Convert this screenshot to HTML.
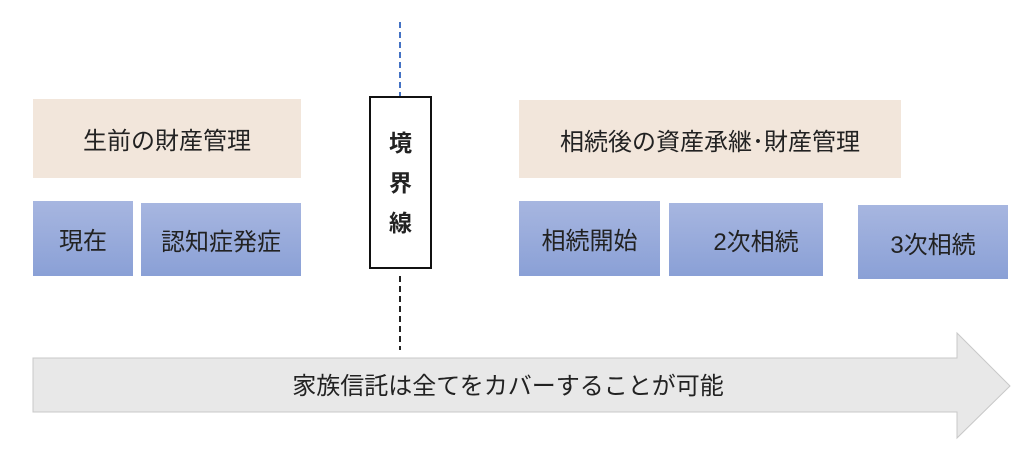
<!DOCTYPE html>
<html><head><meta charset="utf-8"><style>
body{margin:0;width:1024px;height:449px;background:#fff;position:relative;overflow:hidden;font-family:"Liberation Sans","Noto Sans CJK JP",sans-serif;color:#222}
.b{position:absolute;display:flex;align-items:center;justify-content:center;font-size:24px}
.beige{background:#f2e6db}
.blue{background:linear-gradient(#a7b6e0,#8aa0d6)}
</style></head><body>
<svg width="1024" height="449" style="position:absolute;left:0;top:0">
<line x1="400" y1="22" x2="400" y2="96" stroke="#4472c4" stroke-width="2" stroke-dasharray="6,4"/>
<line x1="400" y1="276" x2="400" y2="350" stroke="#222" stroke-width="2" stroke-dasharray="6,4"/>
<polygon points="33,358 957,358 957,333 1010,386 957,438 957,412 33,412" fill="#e8e8e8" stroke="#c8c8c8" stroke-width="1"/>
<text x="508" y="394" font-size="24" text-anchor="middle" font-family="Liberation Sans, Noto Sans CJK JP, sans-serif" fill="#222">家族信託は全てをカバーすることが可能</text>
</svg>
<div class="b beige" style="left:33px;top:99px;width:268px;height:79px">生前の財産管理</div>
<div class="b blue" style="left:33px;top:201px;width:100px;height:75px">現在</div>
<div class="b blue" style="left:141px;top:203px;width:160px;height:73px">認知症発症</div>
<div class="b" style="left:369px;top:96px;width:59px;height:169px;border:2px solid #111;background:#fff;flex-direction:column;font-weight:bold;font-size:23px;line-height:40px">境<br>界<br>線</div>
<div class="b beige" style="left:519px;top:100px;width:382px;height:78px">相続後の資産承継･財産管理</div>
<div class="b blue" style="left:519px;top:201px;width:141px;height:75px">相続開始</div>
<div class="b blue" style="left:669px;top:203px;width:154px;height:73px;padding-left:20px;box-sizing:border-box">2次相続</div>
<div class="b blue" style="left:858px;top:205px;width:150px;height:74px">3次相続</div>
</body></html>
